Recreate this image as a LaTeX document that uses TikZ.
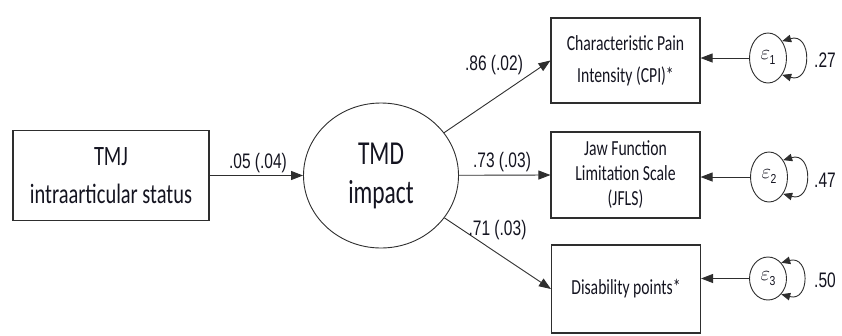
\documentclass[tikz,border=0pt]{standalone}
\usepackage{fontspec}
\usetikzlibrary{shapes.geometric,arrows.meta}
\newfontfamily\boxfont[FakeStretch=0.73]{Carlito}
\newfontfamily\labfont[FakeStretch=0.74]{Liberation Sans}
\newfontfamily\subfont[FakeStretch=0.8]{Liberation Sans}
\newcommand\epsl[1]{$\varepsilon$\kern-0.5pt\raisebox{-5pt}{\subfont\fontsize{13}{13}\selectfont #1}}
\definecolor{linec}{HTML}{2E2E2E}
\definecolor{textc}{HTML}{141420}
\begin{document}
\begin{tikzpicture}[x=1pt,y=-1pt,
  box/.style={draw=linec,line width=1.1pt,rectangle,inner sep=0pt,align=center,text=textc,
    font={\boxfont\fontsize{21.5}{32}\selectfont},minimum width=149pt},
  lat/.style={draw=linec,line width=0.9pt,ellipse,inner sep=0pt,align=center,text=textc},
  eps/.style={draw=linec,line width=0.9pt,ellipse,inner sep=0pt,minimum width=37pt,minimum height=50pt,
    text=textc,font=\fontsize{20}{20}\selectfont},
  lab/.style={font={\labfont\fontsize{21}{21}\selectfont},inner sep=0pt,anchor=base,text=textc},
  arr/.style={draw=linec,line width=0.9pt,-{Triangle[length=12pt,width=9pt]}},
  looparr/.style={draw=linec,line width=0.9pt,{Triangle[length=9pt,width=7.5pt]}-{Triangle[length=9pt,width=7.5pt]}}
]
\useasboundingbox (0,0) rectangle (842,335);

\node[box,minimum width=196pt,minimum height=90pt,font={\boxfont\fontsize{28}{38}\selectfont}] (tmj) at (111,175.5) {TMJ\\intraarticular status};
\node[lat,minimum width=155pt,minimum height=145pt,font={\fontspec[FakeStretch=0.70]{Carlito}\fontsize{33.5}{39}\selectfont}] (tmd) at (381,175.5) {TMD\\impact};

\node[box,minimum height=85pt] (cpi) at (625.5,60.5) {Characteristic Pain\\Intensity (CPI)*};
\node[box,minimum height=86pt,font={\boxfont\fontsize{21.5}{25}\selectfont}] (jfls) at (625.5,175) {Jaw Function\\Limitation Scale\\(JFLS)};
\node[box,minimum height=88pt] (dis) at (626,289) {Disability points*};

\node[eps] (e1) at (768,58) {\epsl{1}};
\node[eps] (e2) at (769,177) {\epsl{2}};
\node[eps,minimum height=43pt] (e3) at (768,278.5) {\epsl{3}};

\draw[arr] (tmj.east |- tmd) -- (tmd);
\draw[arr] (tmd) -- (cpi.west);
\draw[arr] (tmd) -- (jfls.west);
\draw[arr] (tmd) -- (dis.west);

\draw[arr] (e1) -- (e1 -| cpi.east);
\draw[arr] (e2) -- (e2 -| jfls.east);
\draw[arr] (e3) -- (e3 -| dis.east);

\draw[looparr] (e1.50) .. controls +(30,-9) and +(30,9) .. (e1.-50);
\draw[looparr] (e2.50) .. controls +(30,-9) and +(30,9) .. (e2.-50);
\draw[looparr] (e3.50) .. controls +(29,-8) and +(29,8) .. (e3.-50);

\node[lab] (l0) at (258,168) {.05 (.04)};
\node[lab] (l1) at (494,70) {.86 (.02)};
\node[lab] (l2) at (502,167) {.73 (.03)};
\node[lab] (l3) at (497.5,235) {.71 (.03)};
\node[lab] (v1) at (825,67) {.27};
\node[lab] (v2) at (825,187) {.47};
\node[lab] (v3) at (825,287) {.50};
\end{tikzpicture}
\end{document}
